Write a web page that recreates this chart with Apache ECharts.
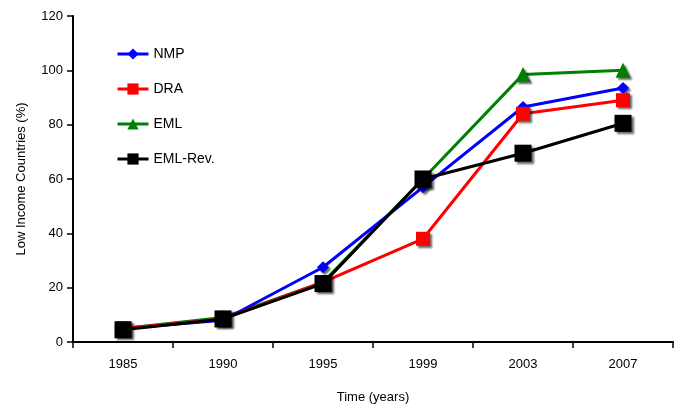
<!DOCTYPE html>
<html><head><meta charset="utf-8">
<script src="https://cdn.jsdelivr.net/npm/echarts@6/dist/echarts.min.js"></script>
<style>html,body{margin:0;padding:0;background:#fff}#c{width:685px;height:415px}</style>
</head><body><div id="c"></div>
<script>
const categories = ['1985','1990','1995','1999','2003','2007'];
const nmp = [5, 8, 27.5, 57, 86.5, 93.5];
const dra = [5, 8.5, 22, 38, 84, 89];
const eml = [5, 9, 22, 60, 98.5, 100];
const emlRev = [4.5, 8.5, 21.5, 60, 69.5, 80.5];
const yTicks = [0, 20, 40, 60, 80, 100, 120];

const font = 'Liberation Sans, Arial, sans-serif';
const shadow = {shadowColor:'rgba(0,0,0,0.6)', shadowBlur:2, shadowOffsetX:2, shadowOffsetY:2};
function s(name, data, color, symbol, size, z){
  return {name, type:'line', data, symbol, symbolSize:size, z,
    lineStyle:{color, width:3}, itemStyle:Object.assign({color}, shadow),
    emphasis:{disabled:true}};
}
const chart = echarts.init(document.getElementById('c'), null, {renderer:'canvas'});
chart.setOption({
  animation:false,
  backgroundColor:'#fff',
  grid:{left:73, right:12, top:16, bottom:73},
  legend:{orient:'vertical', left:111, top:42, itemGap:21, itemWidth:31, itemHeight:14,
    lineStyle:{width:3},
    textStyle:{fontFamily:font, fontSize:14, color:'#000'},
    data:['NMP','DRA','EML','EML-Rev.']},
  xAxis:{type:'category', data:categories, boundaryGap:true,
    name:'Time (years)', nameLocation:'middle', nameGap:49,
    nameTextStyle:{fontFamily:font, fontSize:13, color:'#000'},
    axisLine:{lineStyle:{color:'#000', width:2}},
    axisTick:{show:true, length:6, lineStyle:{color:'#000', width:1.5}},
    axisLabel:{fontFamily:font, fontSize:13, color:'#000', margin:16}},
  yAxis:{type:'value', min:yTicks[0], max:yTicks[yTicks.length-1], interval:20,
    name:'Low Income Countries (%)', nameLocation:'middle', nameGap:45,
    nameTextStyle:{fontFamily:font, fontSize:13, color:'#000'},
    axisLine:{show:true, lineStyle:{color:'#000', width:2}},
    axisTick:{show:true, length:6, lineStyle:{color:'#000', width:1.5}},
    splitLine:{show:false},
    axisLabel:{fontFamily:font, fontSize:13, color:'#000', margin:10}},
  series:[
    s('NMP', nmp, '#0000ff', 'diamond', 12, 3),
    s('DRA', dra, '#ff0000', 'rect', 14, 4),
    s('EML', eml, '#008000', 'triangle', 15, 2),
    s('EML-Rev.', emlRev, '#000000', 'rect', 17, 5)
  ]
});
</script></body></html>
